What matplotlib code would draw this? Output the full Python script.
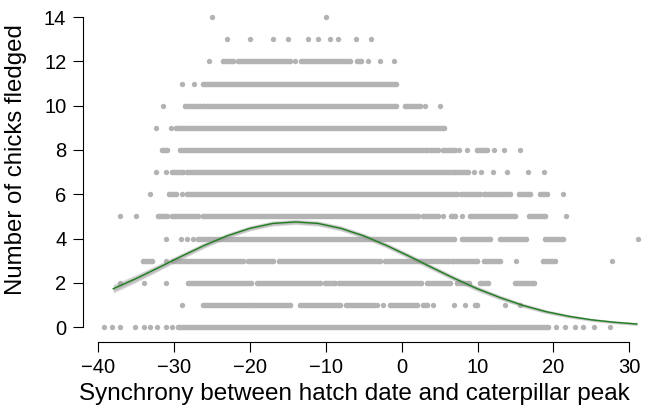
import matplotlib
matplotlib.use("Agg")
import matplotlib.pyplot as plt
import numpy as np

plt.rcParams['font.family'] = ['Liberation Sans', 'DejaVu Sans']

# runs of points along each level of chicks fledged: (first x, last x)
runs = {
    14: [(-25, -25), (-10, -10)],
    13: [(-23, -23), (-20, -20), (-17, -17), (-15, -15), (-12.4, -12.4), (-11, -11),
         (-9.4, -9.4), (-8.4, -8.4), (-6, -6), (-4, -4)],
    12: [(-25.4, -25.4), (-23.6, -22.2), (-21.5, -14.7), (-14, -14), (-13.2, -6.8),
         (-5.9, -5.4), (-4.4, -4.4), (-2.9, -2.9), (-1, -1)],
    11: [(-29, -29), (-27.4, -27.4), (-26.2, -0.8)],
    10: [(-31.4, -31.4), (-28.6, -26.1), (-25.7, -0.7), (0.4, 2.4), (3.1, 3.1), (5, 5)],
    9: [(-32.4, -32.4), (-30.4, -30.4), (-29.7, 5.6)],
    8: [(-31.6, -30.9), (-29.2, 3.3), (3.7, 4.8), (5.5, 7.0), (7.6, 7.6), (8.6, 8.6),
        (9.9, 11.2), (12.2, 12.2), (13.5, 13.5), (15.6, 15.6)],
    7: [(-32.4, -32.4), (-31, -31), (-30.2, -28.8), (-28.3, 7.0), (7.3, 8.8), (9.6, 9.6),
        (10.5, 10.5), (12, 12), (13.9, 13.9), (16.6, 16.6), (18.7, 18.7)],
    6: [(-33.1, -33.1), (-30.6, -29.7), (-29, -29), (-28.3, 7.3), (7.8, 10.3), (10.8, 14.3),
        (15.5, 16.9), (18.2, 19.2), (21.3, 21.3)],
    5: [(-37.1, -37.1), (-35, -35), (-32.1, -30.9), (-30.2, -26.8), (-26.2, 2.2), (2.8, 4.8),
        (5.5, 5.5), (6.5, 7.0), (8, 8), (9, 14.9), (16.8, 18.9), (21.7, 21.7)],
    4: [(-31, -31), (-29.1, -29.1), (-28.3, -28.3), (-27.5, -27.5), (-26.8, 6.9), (7.9, 11.7),
        (12.9, 16.4), (18.9, 21.2), (31.1, 31.1)],
    3: [(-34.1, -32.9), (-31, -31), (-30.1, -20.9), (-20.2, -16.9), (-16.2, -2.8), (-2.2, 6.2),
        (6.6, 9.9), (10.8, 13), (15.1, 15.1), (18.6, 20.2), (27.7, 27.7)],
    2: [(-37.1, -37.1), (-34, -34), (-31, -31), (-28.2, -19.8), (-19.1, -10.8), (-10.1, -8.8),
        (-8.2, 2.6), (3.3, 6.4), (7.3, 8.9), (10.3, 11.4), (14.9, 17.4)],
    1: [(-29, -29), (-26.2, -19.6), (-19.3, -14.7), (-13.4, -8.1), (-7.3, -3.7), (-3.2, -3.2),
        (-2.4, -2.4), (-1.5, 2.0), (2.8, 3.3), (4.1, 4.1), (6.9, 6.9), (8.4, 8.4), (9.7, 9.9),
        (13.6, 13.6), (15.6, 15.6)],
    0: [(-39.2, -39.2), (-38.1, -38.1), (-37.1, -37.1), (-35.1, -35.1), (-34.0, -34.0),
        (-33.1, -33.1), (-32.2, -32.2), (-31.1, -31.1), (-30.2, -30.2), (-29.5, 11.9),
        (12.3, 19.3), (20.4, 20.4), (21.5, 21.5), (22.8, 22.8), (23.9, 23.9), (25.3, 25.3),
        (27.4, 27.4)],
}

# fitted curve and its confidence band
fit_x = [-38, -35, -32, -29, -26, -23, -20, -17, -14, -11, -8, -5, -2, 1, 4, 7, 10,
         13, 16, 19, 22, 25, 28, 31]
fit_y = [1.73, 2.19, 2.69, 3.20, 3.69, 4.12, 4.46, 4.68, 4.75, 4.68, 4.46, 4.12, 3.69,
         3.20, 2.69, 2.19, 1.73, 1.33, 0.98, 0.70, 0.49, 0.33, 0.22, 0.14]
fit_se = [0.20, 0.18, 0.16, 0.14, 0.13, 0.12, 0.12, 0.12, 0.12, 0.12, 0.12, 0.12, 0.12,
          0.12, 0.12, 0.12, 0.12, 0.11, 0.10, 0.09, 0.08, 0.07, 0.07, 0.07]

xticks = [-40, -30, -20, -10, 0, 10, 20, 30]
yticks = [0, 2, 4, 6, 8, 10, 12, 14]

dot_col = "#b3b3b3"

fig = plt.figure(figsize=(6.45, 4.13), dpi=100)
ax = fig.add_axes([0.1287, 0.1726, 0.8705, 0.8075])

for lvl, segs in runs.items():
    for a, b in segs:
        if b > a:
            ax.plot([a, b], [lvl, lvl], color=dot_col, lw=3.9, solid_capstyle="round", zorder=1)
    pts = [a for a, b in segs] + [b for a, b in segs if b > a]
    ax.scatter(pts, [lvl] * len(pts), s=15, color=dot_col, lw=0, zorder=1)

fx = np.array(fit_x)
fy = np.array(fit_y)
fs = np.array(fit_se)
# soft grey band, darker towards the line
for k in [1.0, 0.75, 0.5]:
    ax.fill_between(fx, fy - fs * k, fy + fs * k, color="#9a9a9a", lw=0, alpha=0.3, zorder=2)
ax.plot(fx, fy, color="#1f7f1f", lw=1.0, zorder=3)

ax.set_xlim(-41.98, 32.0)
ax.set_ylim(-0.66, 14.4)
for s in ["top", "right"]:
    ax.spines[s].set_visible(False)
ax.spines["left"].set_bounds(0, 14)
ax.spines["bottom"].set_bounds(-40, 30)
ax.set_xticks(xticks)
ax.set_yticks(yticks)
ax.set_xticklabels(["\u2212" + str(-t) if t < 0 else str(t) for t in xticks])
ax.tick_params(length=7, width=0.8, labelsize=14.5, pad=5)
ax.set_xlabel("Synchrony between hatch date and caterpillar peak", fontsize=17.5, labelpad=7)
ax.set_ylabel("Number of chicks fledged", fontsize=17.3, labelpad=7)
ax.xaxis.set_label_coords(0.483, -0.125)
ax.yaxis.set_label_coords(-0.100, 0.545)

fig.savefig("out.png", dpi=100)
